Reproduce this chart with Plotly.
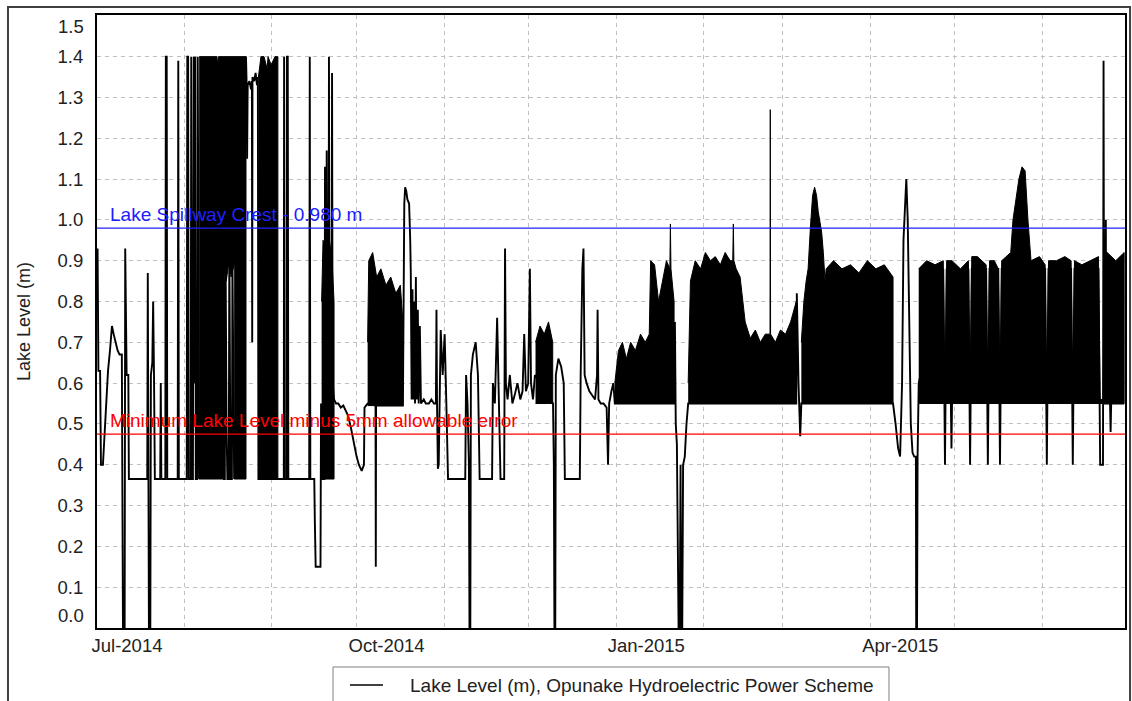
import pandas as pd
import plotly.graph_objects as go

START = pd.Timestamp("2014-07-01")

# ---- main lake level trace: days since 2014-07-01 and level (m) ----
level_days = [
    0.2, 0.5, 1.1, 1.4, 2.1, 2.6, 3.2, 3.9, 4.6, 5.3, 5.9, 6.6, 7.3, 8.0, 8.8, 9.0, 9.2, 9.8, 10.0, 10.5, 11.1, 11.3,
    17.8, 18.0, 18.2, 18.4, 18.9, 19.1, 19.6, 19.9, 20.2, 20.5,
    22.4, 22.6, 22.8, 24.2, 24.4, 24.7, 24.9, 28.6, 28.8, 29.0, 31.8, 32.0, 32.3, 32.5,
    33.2, 33.4, 33.6, 34.0, 34.1, 34.3, 34.5, 34.8, 35.0, 35.5, 35.7, 36.0, 36.2,
    44.7, 45.0, 45.3, 45.5, 45.9, 46.2, 46.7, 46.9, 47.3, 47.8, 48.0, 48.4, 48.6,
    52.8, 53.0, 53.2, 53.4, 54.0, 54.6, 54.9, 55.0, 55.1, 55.7, 56.2, 56.7, 57.0, 57.2,
    64.1, 66.2, 66.3, 66.5, 67.2, 67.3, 67.6, 67.8,
    75.2, 75.4, 75.6, 77.0, 77.2, 77.5, 79.2, 79.4, 79.6, 80.6, 80.8, 81.0, 81.2, 81.4, 81.6, 82.0,
    82.2, 82.4, 83.1, 83.3, 83.5, 84.0,
    84.7, 85.5, 86.4, 87.3, 88.2, 89.0, 90.0, 91.0, 92.0, 92.8, 93.8, 94.6, 94.8, 95.9,
    98.7, 98.8, 98.9, 108.4, 108.6, 108.9, 109.2, 109.6, 110.0, 110.6, 111.0, 111.2, 111.5,
    111.8, 112.1, 112.4, 112.7, 113.0, 113.3, 113.7, 114.0, 114.4, 114.8, 115.8, 116.5, 117.6, 118.5,
    119.4, 120.1, 120.3, 120.5, 120.8, 121.1, 121.3,
    121.8, 122.5, 123.2, 123.8, 124.4, 130.5, 130.8, 131.3, 131.8, 132.0, 132.3, 132.5,
    133.2, 134.2, 135.0, 135.6, 140.0, 140.3, 141.0, 141.8, 142.3, 143.0, 144.3, 144.6, 144.9, 145.5,
    146.3, 147.2, 148.0, 149.0, 150.0, 150.8, 151.4, 152.0, 152.8, 153.4, 153.8, 154.5, 155.2, 161.6,
    161.9, 162.1, 162.4, 162.6, 163.5, 164.5, 165.4, 165.8, 171.1, 171.4, 172.0, 172.4, 172.8, 173.5,
    174.5, 175.5, 176.5, 177.2, 177.4, 177.7, 178.5, 179.5, 180.6, 181.1, 181.5, 182.3, 183.0, 183.5,
    204.5, 204.8, 205.1, 205.5, 205.8, 206.1, 206.5, 206.8, 207.0, 207.4, 207.7, 208.3, 208.9, 209.5,
    247.8, 248.0, 248.6, 249.2, 249.6, 282.1, 283.0, 283.9, 284.6, 285.3, 285.8, 286.3, 286.8, 287.3,
    287.8, 288.4, 289.0, 289.6, 290.2, 290.3, 290.6, 290.8, 291.2,
    299.9, 300.5, 301.1, 302.6, 302.8, 303.0, 308.8, 309.4, 310.0, 315.1, 315.7, 316.3, 319.4, 320.0, 320.6,
    336.0, 336.6, 337.2, 345.2, 345.8, 346.4, 354.9, 355.5, 356.5, 356.7, 356.9, 357.3, 357.5, 357.7,
    359.0, 359.2, 359.4, 364.0,
]
level_vals = [
    0.93, 0.63, 0.63, 0.40, 0.40, 0.47, 0.55, 0.63, 0.68, 0.74, 0.72, 0.70, 0.68, 0.67, 0.67, 0.33, 0.0, 0.0, 0.93, 0.62, 0.62, 0.365,
    0.365, 0.87, 0.18, 0.0, 0.0, 0.62, 0.65, 0.80, 0.62, 0.365,
    0.365, 0.60, 0.365, 0.365, 1.40, 1.40, 0.365, 0.365, 1.39, 0.365, 0.365, 1.40, 1.40, 0.365,
    0.365, 1.40, 0.365, 0.365, 0.88, 1.40, 0.60, 1.40, 0.365, 0.365, 1.40, 0.365, 0.365,
    1.00, 0.365, 0.365, 1.00, 0.50, 0.365, 0.365, 0.95, 0.365, 0.365, 0.90, 0.365, 0.365,
    1.40, 1.34, 1.15, 1.33, 1.34, 1.32, 1.34, 0.70, 1.35, 1.34, 1.36, 1.33, 1.35, 0.365,
    0.365, 0.365, 1.40, 0.365, 0.365, 1.40, 1.40, 0.365,
    0.365, 1.40, 0.365, 0.365, 0.26, 0.15, 0.15, 0.55, 0.365, 0.365, 1.13, 0.60, 0.365, 1.17, 0.60, 0.365,
    1.40, 0.60, 0.60, 1.36, 0.60, 0.56,
    0.55, 0.55, 0.54, 0.545, 0.53, 0.52, 0.49, 0.45, 0.42, 0.40, 0.385, 0.40, 0.54, 0.55,
    0.545, 0.15, 0.545, 0.545, 0.88, 1.04, 1.08, 1.07, 1.05, 1.04, 0.95, 0.87, 0.56,
    0.83, 0.56, 0.80, 0.55, 0.86, 0.56, 0.78, 0.55, 0.74, 0.55, 0.56, 0.55, 0.55, 0.56,
    0.55, 0.55, 0.78, 0.55, 0.39, 0.40, 0.55,
    0.73, 0.62, 0.72, 0.55, 0.365, 0.365, 0.62, 0.55, 0.40, 0.0, 0.0, 0.62,
    0.67, 0.70, 0.62, 0.365, 0.365, 0.60, 0.55, 0.76, 0.55, 0.365, 0.365, 0.93, 0.60, 0.56,
    0.62, 0.55, 0.57, 0.60, 0.56, 0.58, 0.72, 0.58, 0.60, 0.88, 0.60, 0.56, 0.62, 0.55,
    0.40, 0.0, 0.0, 0.62, 0.66, 0.64, 0.60, 0.365, 0.365, 0.62, 0.88, 0.93, 0.62, 0.60,
    0.58, 0.57, 0.56, 0.62, 0.78, 0.56, 0.55, 0.55, 0.54, 0.40, 0.55, 0.58, 0.60, 0.55,
    0.55, 0.75, 0.50, 0.45, 0.20, 0.0, 0.0, 0.40, 0.0, 0.0, 0.40, 0.42, 0.50, 0.55,
    0.55, 0.82, 0.60, 0.47, 0.55, 0.55, 0.50, 0.44, 0.42, 0.60, 0.95, 1.02, 1.10, 1.00,
    0.70, 0.50, 0.43, 0.42, 0.42, 0.0, 0.0, 0.42, 0.60,
    0.88, 0.40, 0.88, 0.55, 0.44, 0.55, 0.88, 0.40, 0.88, 0.88, 0.40, 0.88, 0.88, 0.40, 0.88,
    0.88, 0.40, 0.88, 0.88, 0.40, 0.88, 0.88, 0.40, 0.40, 1.39, 0.55, 0.55, 1.00, 0.55,
    0.55, 0.48, 0.55, 0.55,
]

# ---- dense oscillation envelopes (days, upper, lower) ----
aug_a_days = [36.2, 38.0, 40.0, 42.5, 42.8, 43.1, 44.7]
aug_a_hi = [1.40, 1.40, 1.40, 1.40, 1.38, 1.40, 1.40]
aug_a_lo = [0.365, 0.365, 0.365, 0.365, 0.365, 0.365, 0.365]

aug_b_days = [44.7, 45.8, 46.8, 47.5, 48.6]
aug_b_hi = [1.40, 1.40, 1.40, 1.40, 1.40]
aug_b_lo = [0.89, 0.85, 0.90, 0.86, 0.89]

aug_c_days = [48.6, 50.4, 52.8]
aug_c_hi = [1.40, 1.40, 1.40]
aug_c_lo = [0.365, 0.365, 0.365]

aug_d_days = [57.2, 58.1, 59.2, 60.3, 60.6, 61.7, 63.1, 64.1]
aug_d_hi = [1.35, 1.40, 1.40, 1.37, 1.40, 1.38, 1.40, 1.40]
aug_d_lo = [0.365, 0.365, 0.365, 0.365, 0.365, 0.365, 0.365, 0.365]

sep_days = [79.6, 80.1, 81.1, 82.2, 83.3, 84.0]
sep_hi = [0.80, 0.95, 0.93, 0.96, 0.90, 0.80]
sep_lo = [0.365, 0.365, 0.365, 0.365, 0.365, 0.365]

oct_days = [95.9, 96.3, 97.7, 99.1, 100.6, 102.4, 104.1, 105.9, 107.5, 108.4]
oct_hi = [0.70, 0.90, 0.92, 0.86, 0.88, 0.84, 0.86, 0.82, 0.84, 0.75]
oct_lo = [0.545, 0.545, 0.545, 0.545, 0.545, 0.545, 0.545, 0.545, 0.545, 0.545]

dec_days = [155.4, 157.0, 158.5, 160.0, 161.5]
dec_hi = [0.70, 0.74, 0.72, 0.75, 0.70]
dec_lo = [0.55, 0.55, 0.55, 0.55, 0.55]

jan_days = [183.5, 184.8, 186.2, 187.6, 189.1, 190.8, 192.6, 194.3, 195.7, 196.2, 197.6, 199.0,
            200.4, 201.8, 203.0, 203.2, 203.4, 204.5]
jan_hi = [0.60, 0.68, 0.70, 0.66, 0.70, 0.68, 0.72, 0.70, 0.72, 0.90, 0.89, 0.80,
          0.85, 0.90, 0.88, 0.99, 0.88, 0.80]
jan_lo = [0.55] * 18

feb_days = [209.5, 210.3, 212.0, 213.9, 215.6, 217.4, 219.1, 220.9, 222.6, 224.4, 225.3, 225.5,
            225.7, 226.5, 227.9, 229.7, 231.5, 233.3, 235.1, 236.8, 238.5, 238.6, 238.7,
            240.4, 242.2, 244.0, 245.8, 247.8]
feb_hi = [0.60, 0.85, 0.90, 0.88, 0.92, 0.90, 0.91, 0.89, 0.92, 0.90, 0.90, 0.99,
          0.90, 0.88, 0.86, 0.75, 0.71, 0.73, 0.70, 0.72, 0.72, 1.27, 0.72,
          0.70, 0.73, 0.72, 0.75, 0.80]
feb_lo = [0.55] * 28

mar_days = [249.6, 250.5, 251.3, 252.0, 252.8, 253.6, 254.3, 255.0, 255.6, 256.2, 256.8, 257.4,
            258.0, 258.4, 261.0, 264.0, 267.0, 270.0, 273.0, 276.0, 279.0, 282.1]
mar_hi = [0.70, 0.80, 0.85, 0.88, 0.98, 1.06, 1.08, 1.06, 1.02, 0.99, 0.97, 0.92,
          0.85, 0.88, 0.90, 0.88, 0.89, 0.87, 0.90, 0.88, 0.89, 0.86]
mar_lo = [0.55] * 22

apr_days = [291.2, 294.0, 297.0, 299.9, 300.5, 301.1, 303.0, 306.0, 308.8, 309.4, 310.0,
            312.0, 315.1, 315.7, 316.3, 318.0, 319.4, 320.0, 320.6,
            323.8, 324.6, 325.6, 326.7, 327.8, 328.9, 329.9, 331.0, 334.0, 336.0, 336.6, 337.2,
            340.0, 343.0, 345.2, 345.8, 346.4, 349.0, 352.0, 354.9, 355.5, 356.5, 357.1,
            358.0, 361.0, 364.0]
apr_hi = [0.88, 0.90, 0.89, 0.90, 0.56, 0.90, 0.90, 0.88, 0.90, 0.56, 0.91,
          0.91, 0.89, 0.56, 0.90, 0.90, 0.88, 0.56, 0.90,
          0.92, 1.00, 1.05, 1.10, 1.13, 1.12, 1.00, 0.90, 0.91, 0.89, 0.56, 0.90,
          0.90, 0.91, 0.90, 0.56, 0.90, 0.89, 0.90, 0.91, 0.56, 0.56, 0.92,
          0.92, 0.90, 0.92]
apr_lo = [0.55] * 45

bands = [
    (aug_a_days, aug_a_hi, aug_a_lo),
    (aug_b_days, aug_b_hi, aug_b_lo),
    (aug_c_days, aug_c_hi, aug_c_lo),
    (aug_d_days, aug_d_hi, aug_d_lo),
    (sep_days, sep_hi, sep_lo),
    (oct_days, oct_hi, oct_lo),
    (dec_days, dec_hi, dec_lo),
    (jan_days, jan_hi, jan_lo),
    (feb_days, feb_hi, feb_lo),
    (mar_days, mar_hi, mar_lo),
    (apr_days, apr_hi, apr_lo),
]

# ---- reference levels ----
spillway_crest = 0.98
min_level = 0.475
spillway_label = "Lake Spillway Crest - 0.980 m"
min_label = "Minimum Lake Level minus 5mm allowable error"
series_name = "Lake Level (m), Opunake Hydroelectric Power Scheme"

# ---- axis ticks ----
month_ticks = ["2014-07-01", "2014-08-01", "2014-09-01", "2014-10-01", "2014-11-01", "2014-12-01",
               "2015-01-01", "2015-02-01", "2015-03-01", "2015-04-01", "2015-05-01", "2015-06-01"]
month_labels = ["Jul-2014", "", "", "Oct-2014", "", "", "Jan-2015", "", "", "Apr-2015", "", ""]
y_ticks = [0.0, 0.1, 0.2, 0.3, 0.4, 0.5, 0.6, 0.7, 0.8, 0.9, 1.0, 1.1, 1.2, 1.3, 1.4, 1.5]
# the end labels (0.0 and 1.5) are nudged inwards in the original, drawn separately below
y_labels = ["", "0.1", "0.2", "0.3", "0.4", "0.5", "0.6", "0.7", "0.8", "0.9", "1.0",
            "1.1", "1.2", "1.3", "1.4", ""]


def to_dates(days):
    return [START + pd.Timedelta(days=d) for d in days]


poly_x, poly_y = [], []
for d, hi, lo in bands:
    dates = to_dates(d)
    poly_x += dates + dates[::-1] + [None]
    poly_y += hi + lo[::-1] + [None]

FONT = "Liberation Sans, Arial, sans-serif"
TXT = "#222222"

fig = go.Figure()
fig.add_trace(go.Scatter(
    x=poly_x, y=poly_y, mode="lines", fill="toself", fillcolor="black",
    line=dict(color="black", width=1), showlegend=False, hoverinfo="skip",
))
fig.add_trace(go.Scatter(
    x=to_dates(level_days), y=level_vals, mode="lines", name=series_name,
    line=dict(color="black", width=1.9), showlegend=False,
))

fig.add_hline(y=spillway_crest, line=dict(color="#2020ff", width=1.2), layer="above")
fig.add_hline(y=min_level, line=dict(color="#ff0000", width=1.2), layer="above")
fig.add_annotation(x=0.0107, xref="paper", y=spillway_crest, yref="y", text=spillway_label,
                   showarrow=False, xanchor="left", yanchor="bottom", yshift=1,
                   font=dict(family=FONT, size=19, color="#2020ff"))
fig.add_annotation(x=0.0107, xref="paper", y=min_level, yref="y", text=min_label,
                   showarrow=False, xanchor="left", yanchor="bottom", yshift=1,
                   font=dict(family=FONT, size=19, color="#ff0000"))

# end tick labels of the y axis, shifted inwards like the original
fig.add_annotation(x=0, xref="paper", y=y_ticks[0], yref="y", text=f"{y_ticks[0]:.1f}",
                   showarrow=False, xanchor="right", yanchor="middle", xshift=-11, yshift=13,
                   font=dict(family=FONT, size=18.5, color=TXT))
fig.add_annotation(x=0, xref="paper", y=y_ticks[-1], yref="y", text=f"{y_ticks[-1]:.1f}",
                   showarrow=False, xanchor="right", yanchor="middle", xshift=-11, yshift=-11,
                   font=dict(family=FONT, size=18.5, color=TXT))

# outer chart frame
fig.add_shape(type="rect", xref="paper", yref="paper", x0=-0.0866, x1=1.0049, y0=-0.125, y1=1.0131,
              line=dict(color="#404040", width=2), layer="above")

# legend box (drawn below the plot, clipped by the page edge as in the original)
fig.add_shape(type="rect", xref="paper", yref="paper", x0=0.2296, x1=0.7704, y0=-0.14, y1=-0.0636,
              line=dict(color="#808080", width=1), fillcolor="white", layer="above")
fig.add_shape(type="line", xref="paper", yref="paper", x0=0.2461, x1=0.2782, y0=-0.093, y1=-0.093,
              line=dict(color="black", width=1.6), layer="above")
fig.add_annotation(x=0.3025, xref="paper", y=-0.093, yref="paper", text=series_name,
                   showarrow=False, xanchor="left", yanchor="middle",
                   font=dict(family=FONT, size=19, color=TXT))

fig.update_layout(
    width=1132, height=701,
    margin=dict(l=97, r=7, t=15, b=73),
    paper_bgcolor="white", plot_bgcolor="white",
    font=dict(family=FONT, size=18, color=TXT),
    showlegend=False,
    xaxis=dict(
        range=[START, START + pd.Timedelta(days=364.3)], automargin=False,
        tickmode="array", tickvals=month_ticks, ticktext=month_labels,
        ticklabelshift=30, ticks="", showgrid=True,
        gridcolor="#c0c0c0", griddash="4px,4px", gridwidth=1,
        showline=True, mirror=True, linecolor="black", linewidth=2,
        zeroline=False, tickfont=dict(family=FONT, size=18.5, color=TXT),
        ticklabelstandoff=0,
    ),
    yaxis=dict(
        range=[0, 1.502], tickmode="array", tickvals=y_ticks, ticktext=y_labels, automargin=False,
        ticks="", showgrid=True, gridcolor="#c0c0c0", griddash="4px,4px", gridwidth=1,
        showline=True, mirror=True, linecolor="black", linewidth=2, zeroline=False,
        tickfont=dict(family=FONT, size=18.5, color=TXT), ticklabelstandoff=8,
        title=dict(text="Lake Level (m)", standoff=22, font=dict(family=FONT, size=18, color=TXT)),
    ),
)

fig.write_html("out.html", config={"displayModeBar": False},
               post_script="document.body.style.margin='0px';document.body.style.overflow='hidden';")
